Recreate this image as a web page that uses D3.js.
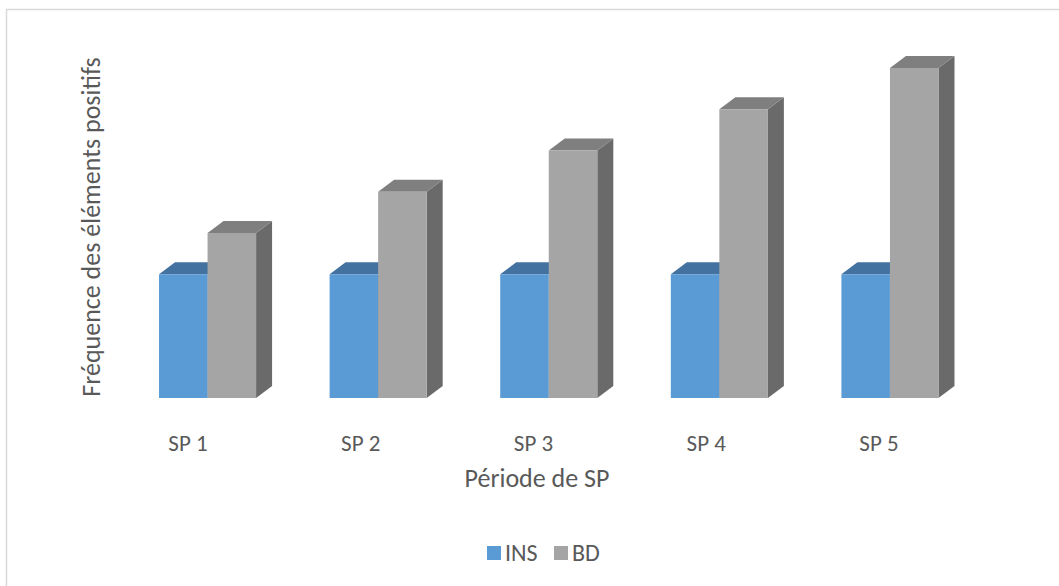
<!DOCTYPE html>
<html>
<head>
<meta charset="utf-8">
<script src="https://cdn.jsdelivr.net/npm/d3@7"></script>
<style>
  html, body { margin: 0; padding: 0; background: #fff; }
  svg { display: block; font-family: Carlito, Lato, "Open Sans", sans-serif; }
</style>
</head>
<body>
<svg id="chart" width="1059" height="586"></svg>
<script>
// Chart data
const categories = ["SP 1", "SP 2", "SP 3", "SP 4", "SP 5"];
const seriesNames = ["INS", "BD"];
const insValues = [3, 3, 3, 3, 3];
const bdValues = [4, 5, 6, 7, 8];

const seriesColors = {
  INS: { front: "#5b9bd5", top: "#4472a0", side: "#41719c" },
  BD:  { front: "#a5a5a5", top: "#7f7f7f", side: "#6a6a6a" }
};

const svg = d3.select("#chart");
const W = 1059, H = 586;

// Chart area frame
svg.append("rect")
  .attr("x", 6.5).attr("y", 9.5)
  .attr("width", W + 10).attr("height", H + 10)
  .attr("fill", "#fff").attr("stroke", "#d9d9d9").attr("stroke-width", 1.5);

// Scales
const x0 = d3.scaleBand().domain(categories)
  .range([122.25, 975.25]).paddingInner(0.431).paddingOuter(0.2155);
const x1 = d3.scaleBand().domain(seriesNames).range([0, x0.bandwidth()]).padding(0);
const y = d3.scaleLinear().domain([0, 8]).range([398, 68]);
const labelX = d3.scalePoint().domain(categories).range([188, 879]);

// 3D depth offsets
const dx = 16, dy = 12;

const rows = [];
categories.forEach((c, i) => {
  rows.push({ cat: c, s: "INS", v: insValues[i] });
  rows.push({ cat: c, s: "BD", v: bdValues[i] });
});

const g = svg.append("g");
rows.forEach(d => {
  const x = x0(d.cat) + x1(d.s);
  const w = x1.bandwidth();
  const yt = y(d.v), yb = y(0);
  const col = seriesColors[d.s];
  // side face
  g.append("path")
    .attr("d", `M${x + w},${yt} L${x + w + dx},${yt - dy} L${x + w + dx},${yb - dy} L${x + w},${yb} Z`)
    .attr("fill", col.side);
  // top face
  g.append("path")
    .attr("d", `M${x},${yt} L${x + w},${yt} L${x + w + dx},${yt - dy} L${x + dx},${yt - dy} Z`)
    .attr("fill", col.top);
  // front face
  g.append("rect")
    .attr("x", x).attr("y", yt)
    .attr("width", w).attr("height", yb - yt)
    .attr("fill", col.front);
});

// Category labels
svg.append("g").selectAll("text").data(categories).join("text")
  .attr("x", d => labelX(d)).attr("y", 451)
  .attr("text-anchor", "middle")
  .attr("font-size", 23).attr("fill", "#595959")
  .text(d => d);

// Axis titles
svg.append("text")
  .attr("x", 537).attr("y", 487)
  .attr("text-anchor", "middle")
  .attr("font-size", 26).attr("fill", "#595959")
  .text("Période de SP");

svg.append("text")
  .attr("transform", "translate(100,227) rotate(-90)")
  .attr("text-anchor", "middle")
  .attr("font-size", 26).attr("fill", "#595959")
  .text("Fréquence des éléments positifs");

// Legend
const legendItems = [
  { name: "INS", x: 487 },
  { name: "BD", x: 554 }
];
const lg = svg.append("g");
legendItems.forEach(it => {
  lg.append("rect").attr("x", it.x).attr("y", 546).attr("width", 14).attr("height", 14)
    .attr("fill", seriesColors[it.name].front);
  lg.append("text").attr("x", it.x + 18).attr("y", 561)
    .attr("font-size", 24).attr("fill", "#595959").text(it.name);
});
</script>
</body>
</html>
